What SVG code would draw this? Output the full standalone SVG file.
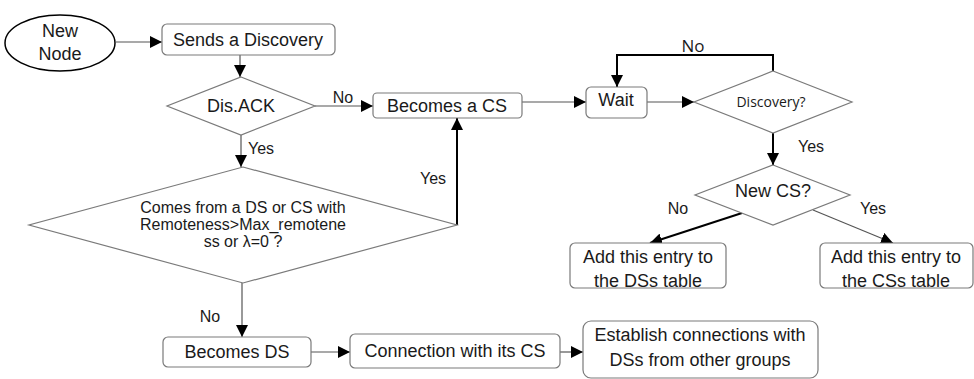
<svg xmlns="http://www.w3.org/2000/svg" width="974" height="379" viewBox="0 0 974 379">
  <style>
    .box { fill: #ffffff; stroke: #7a7a7a; stroke-width: 1.2; }
    .dia { fill: #ffffff; stroke: #7a7a7a; stroke-width: 1.2; }
    .txt { font-family: "Liberation Sans", Arial, sans-serif; font-size: 18px; fill: #1a1a1a; text-anchor: middle; }
    .big { font-size: 16px; }
    .lbl { font-family: "Liberation Sans", Arial, sans-serif; font-size: 16px; fill: #1a1a1a; }
    .cal { font-family: "Open Sans", "Noto Sans", sans-serif; fill: #1a1a1a; }
    .thin { fill: none; stroke: #555555; stroke-width: 1.2; }
    .thick { fill: none; stroke: #000000; stroke-width: 2; }
  </style>
  <defs>
    <marker id="arrow" viewBox="0 0 12 12" refX="12" refY="6" markerWidth="12" markerHeight="12" markerUnits="userSpaceOnUse" orient="auto">
      <path d="M0,0 L12,6 L0,12 z" fill="#000000"/>
    </marker>
  </defs>

  <g id="connectors">
    <line class="thin" x1="116" y1="42" x2="162" y2="42" marker-end="url(#arrow)"/>
    <line class="thin" x1="240" y1="55" x2="240" y2="77" marker-end="url(#arrow)"/>
    <line class="thin" x1="315" y1="106" x2="373" y2="106" marker-end="url(#arrow)"/>
    <line class="thin" x1="522" y1="102" x2="586" y2="102" marker-end="url(#arrow)"/>
    <line class="thin" x1="647" y1="102" x2="694" y2="102" marker-end="url(#arrow)"/>
    <polyline class="thick" points="773,71 773,55 617,55 617,87" marker-end="url(#arrow)"/>
    <line class="thick" x1="773" y1="133" x2="773" y2="165" marker-end="url(#arrow)"/>
    <line class="thick" x1="742" y1="213" x2="650" y2="243" marker-end="url(#arrow)"/>
    <line class="thin" x1="813" y1="210" x2="893" y2="243" marker-end="url(#arrow)"/>
    <line class="thin" x1="241" y1="135" x2="241" y2="167" marker-end="url(#arrow)"/>
    <line class="thick" x1="457" y1="225" x2="457" y2="118" marker-end="url(#arrow)"/>
    <line class="thin" x1="242" y1="283" x2="242" y2="337" marker-end="url(#arrow)"/>
    <line class="thin" x1="311" y1="352" x2="350" y2="352" marker-end="url(#arrow)"/>
    <line class="thin" x1="560" y1="352" x2="583" y2="352" marker-end="url(#arrow)"/>

    <text class="lbl" x="343" y="103" text-anchor="middle">No</text>
    <text class="cal" x="693" y="52" font-size="17" text-anchor="middle">No</text>
    <text class="lbl" x="811" y="152" text-anchor="middle">Yes</text>
    <text class="lbl" x="678" y="214" text-anchor="middle">No</text>
    <text class="lbl" x="873" y="214" text-anchor="middle">Yes</text>
    <text class="lbl" x="248" y="154">Yes</text>
    <text class="lbl" x="433" y="184" text-anchor="middle">Yes</text>
    <text class="lbl" x="210" y="322" text-anchor="middle">No</text>
  </g>

  <g id="new-node">
    <ellipse cx="60" cy="43" rx="55" ry="28" fill="#ffffff" stroke="#000000" stroke-width="1.5"/>
    <text class="txt" x="60" y="37">New</text>
    <text class="txt" x="60" y="60">Node</text>
  </g>

  <g id="sends-discovery">
    <rect class="box" x="162" y="24" width="173" height="31" rx="5"/>
    <text class="txt" x="248" y="46">Sends a Discovery</text>
  </g>

  <g id="dis-ack">
    <polygon class="dia" points="241,77 315,106 241,135 167,106"/>
    <text class="txt" x="241" y="112">Dis.ACK</text>
  </g>

  <g id="becomes-cs">
    <rect class="box" x="373" y="93" width="149" height="25" rx="4"/>
    <text class="txt" x="447" y="112">Becomes a CS</text>
  </g>

  <g id="wait">
    <rect class="box" x="586" y="87" width="61" height="31" rx="5"/>
    <text class="txt" x="616" y="106">Wait</text>
  </g>

  <g id="discovery-check">
    <polygon class="dia" points="773,71 852,102 773,133 694,102"/>
    <text class="cal" x="771" y="107" font-size="14" text-anchor="middle">Discovery?</text>
  </g>

  <g id="new-cs-check">
    <polygon class="dia" points="773,165 850,195 773,225 695,195"/>
    <text class="txt" x="773" y="197">New CS?</text>
  </g>

  <g id="add-ds">
    <rect class="box" x="570" y="243" width="156" height="45" rx="5"/>
    <text class="txt" x="648" y="263">Add this entry to</text>
    <text class="txt" x="648" y="287">the DSs table</text>
  </g>

  <g id="add-cs">
    <rect class="box" x="820" y="243" width="153" height="45" rx="5"/>
    <text class="txt" x="896" y="263">Add this entry to</text>
    <text class="txt" x="896" y="287">the CSs table</text>
  </g>

  <g id="remoteness-check">
    <polygon class="dia" points="243,167 457,225 243,283 29,225"/>
    <text class="txt big" x="243" y="213">Comes from a DS or CS with</text>
    <text class="txt big" x="243" y="230">Remoteness&gt;Max_remotene</text>
    <text class="txt big" x="243" y="247">ss or λ=0 ?</text>
  </g>

  <g id="becomes-ds">
    <rect class="box" x="163" y="337" width="148" height="30" rx="5"/>
    <text class="txt" x="237" y="358">Becomes DS</text>
  </g>

  <g id="connection-cs">
    <rect class="box" x="350" y="334" width="210" height="34" rx="5"/>
    <text class="txt" x="455" y="357">Connection with its CS</text>
  </g>

  <g id="establish">
    <rect class="box" x="583" y="321" width="235" height="57" rx="8"/>
    <text class="txt" x="700" y="341">Establish connections with</text>
    <text class="txt" x="700" y="366">DSs from other groups</text>
  </g>
</svg>
